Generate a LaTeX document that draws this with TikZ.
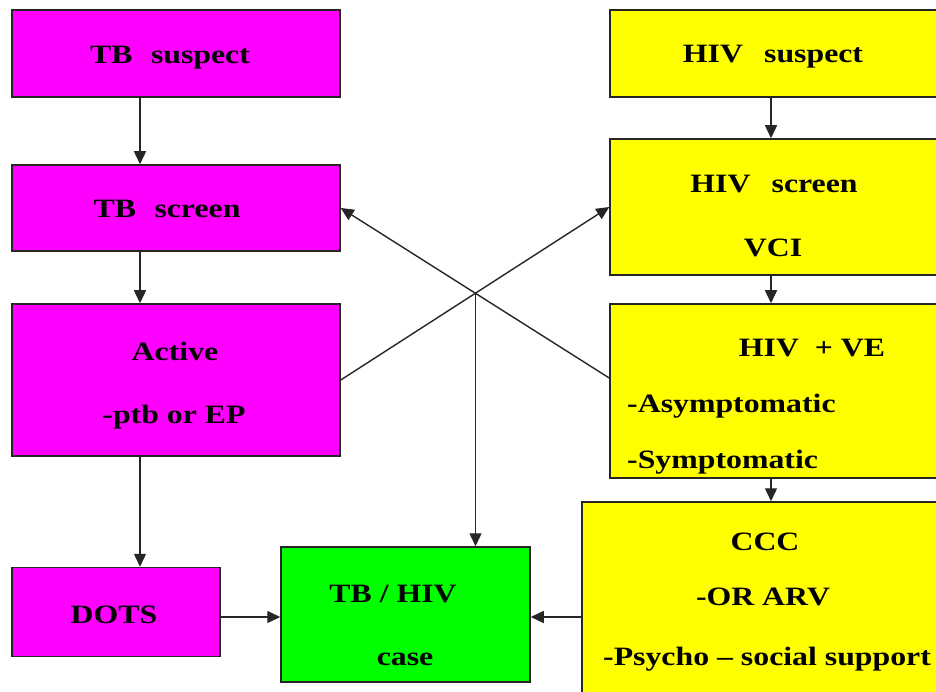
\documentclass[tikz,border=0pt]{standalone}
\usepackage{fontspec}
\setmainfont{Liberation Serif}[FakeStretch=1.2]
\usetikzlibrary{arrows.meta}
\definecolor{tbmag}{RGB}{255,0,255}
\definecolor{hivyel}{RGB}{255,255,0}
\definecolor{casegreen}{RGB}{0,255,0}

\begin{document}
\begin{tikzpicture}[x=1pt,y=-1pt,
  box/.style={draw=black!85,line width=1.5pt,inner sep=0pt},
  txt/.style={font=\fontsize{26.5}{30}\selectfont\bfseries,anchor=base,inner sep=0pt},
  lefttxt/.style={txt,anchor=base west},
  arr/.style={-{Triangle[length=13pt,width=12pt]},line width=1.4pt,black!85}]
\useasboundingbox (0,0) rectangle (936,692);
\clip (0,0) rectangle (936,692);
% TB side
\node[box,fill=tbmag,minimum width=328,minimum height=87] (tbsus) at (176,53.5) {};
\node[box,fill=tbmag,minimum width=328,minimum height=86] (tbscr) at (176,208) {};
\node[box,fill=tbmag,minimum width=328,minimum height=152] (active) at (176,380) {};
\node[box,fill=tbmag,minimum width=208,minimum height=89] (dots) at (116,612) {};
\node[box,fill=casegreen,minimum width=249,minimum height=135] (tbhiv) at (405.5,614.5) {};
% HIV side
\node[box,fill=hivyel,minimum width=330,minimum height=87] (hivsus) at (775,53.5) {};
\node[box,fill=hivyel,minimum width=330,minimum height=136] (hivscr) at (775,207) {};
\node[box,fill=hivyel,minimum width=330,minimum height=174] (hivve) at (775,391) {};
\node[box,fill=hivyel,minimum width=360,minimum height=196] (ccc) at (762,600) {};
% labels
\node[txt] (tbsus-t) at (170,64) {TB\hspace{0.7em}suspect};
\node[txt] (tbscr-t) at (167,218) {TB\hspace{0.7em}screen};
\node[txt] (active-t1) at (175,360) {Active};
\node[txt] (active-t2) at (174,423) {-ptb or EP};
\node[txt] (dots-t) at (114,623) {DOTS};
\node[txt] (tbhiv-t1) at (393,602) {TB / HIV};
\node[txt] (tbhiv-t2) at (405,665) {case};
\node[txt] (hivsus-t) at (773,63) {HIV\hspace{0.8em}suspect};
\node[txt] (hivscr-t1) at (774,193) {HIV\hspace{0.8em}screen};
\node[txt] (hivscr-t2) at (773,257) {VCI};
\node[txt] (hivve-t1) at (812,356) {HIV\hspace{0.6em}+ VE};
\node[lefttxt] (hivve-t2) at (627,412) {-Asymptomatic};
\node[lefttxt] (hivve-t3) at (627,468) {-Symptomatic};
\node[txt] (ccc-t1) at (765,550) {CCC};
\node[txt] (ccc-t2) at (763,605) {-OR ARV};
\node[lefttxt] (ccc-t3) at (603,665) {-Psycho -- social support};
% connectors
\coordinate (lcol) at (140,0);
\coordinate (rcol) at (771,0);
\coordinate (brow) at (0,617);
\coordinate (cross) at (475.5,293.5);
\draw[arr] (tbsus.south -| lcol) -- (tbscr.north -| lcol);
\draw[arr] (tbscr.south -| lcol) -- (active.north -| lcol);
\draw[arr] (active.south -| lcol) -- (dots.north -| lcol);
\draw[arr] (dots.east |- brow) -- (tbhiv.west |- brow);
\draw[arr] (ccc.west |- brow) -- (tbhiv.east |- brow);
\draw[arr] (hivsus.south -| rcol) -- (hivscr.north -| rcol);
\draw[arr] (hivscr.south -| rcol) -- (hivve.north -| rcol);
\draw[arr] (hivve.south -| rcol) -- (ccc.north -| rcol);
\draw[arr] (active.east) -- (hivscr.west);
\draw[arr] ([yshift=13pt]hivve.west) -- (tbscr.east);
\draw[arr] (cross) -- (cross |- tbhiv.north);
\end{tikzpicture}
\end{document}
